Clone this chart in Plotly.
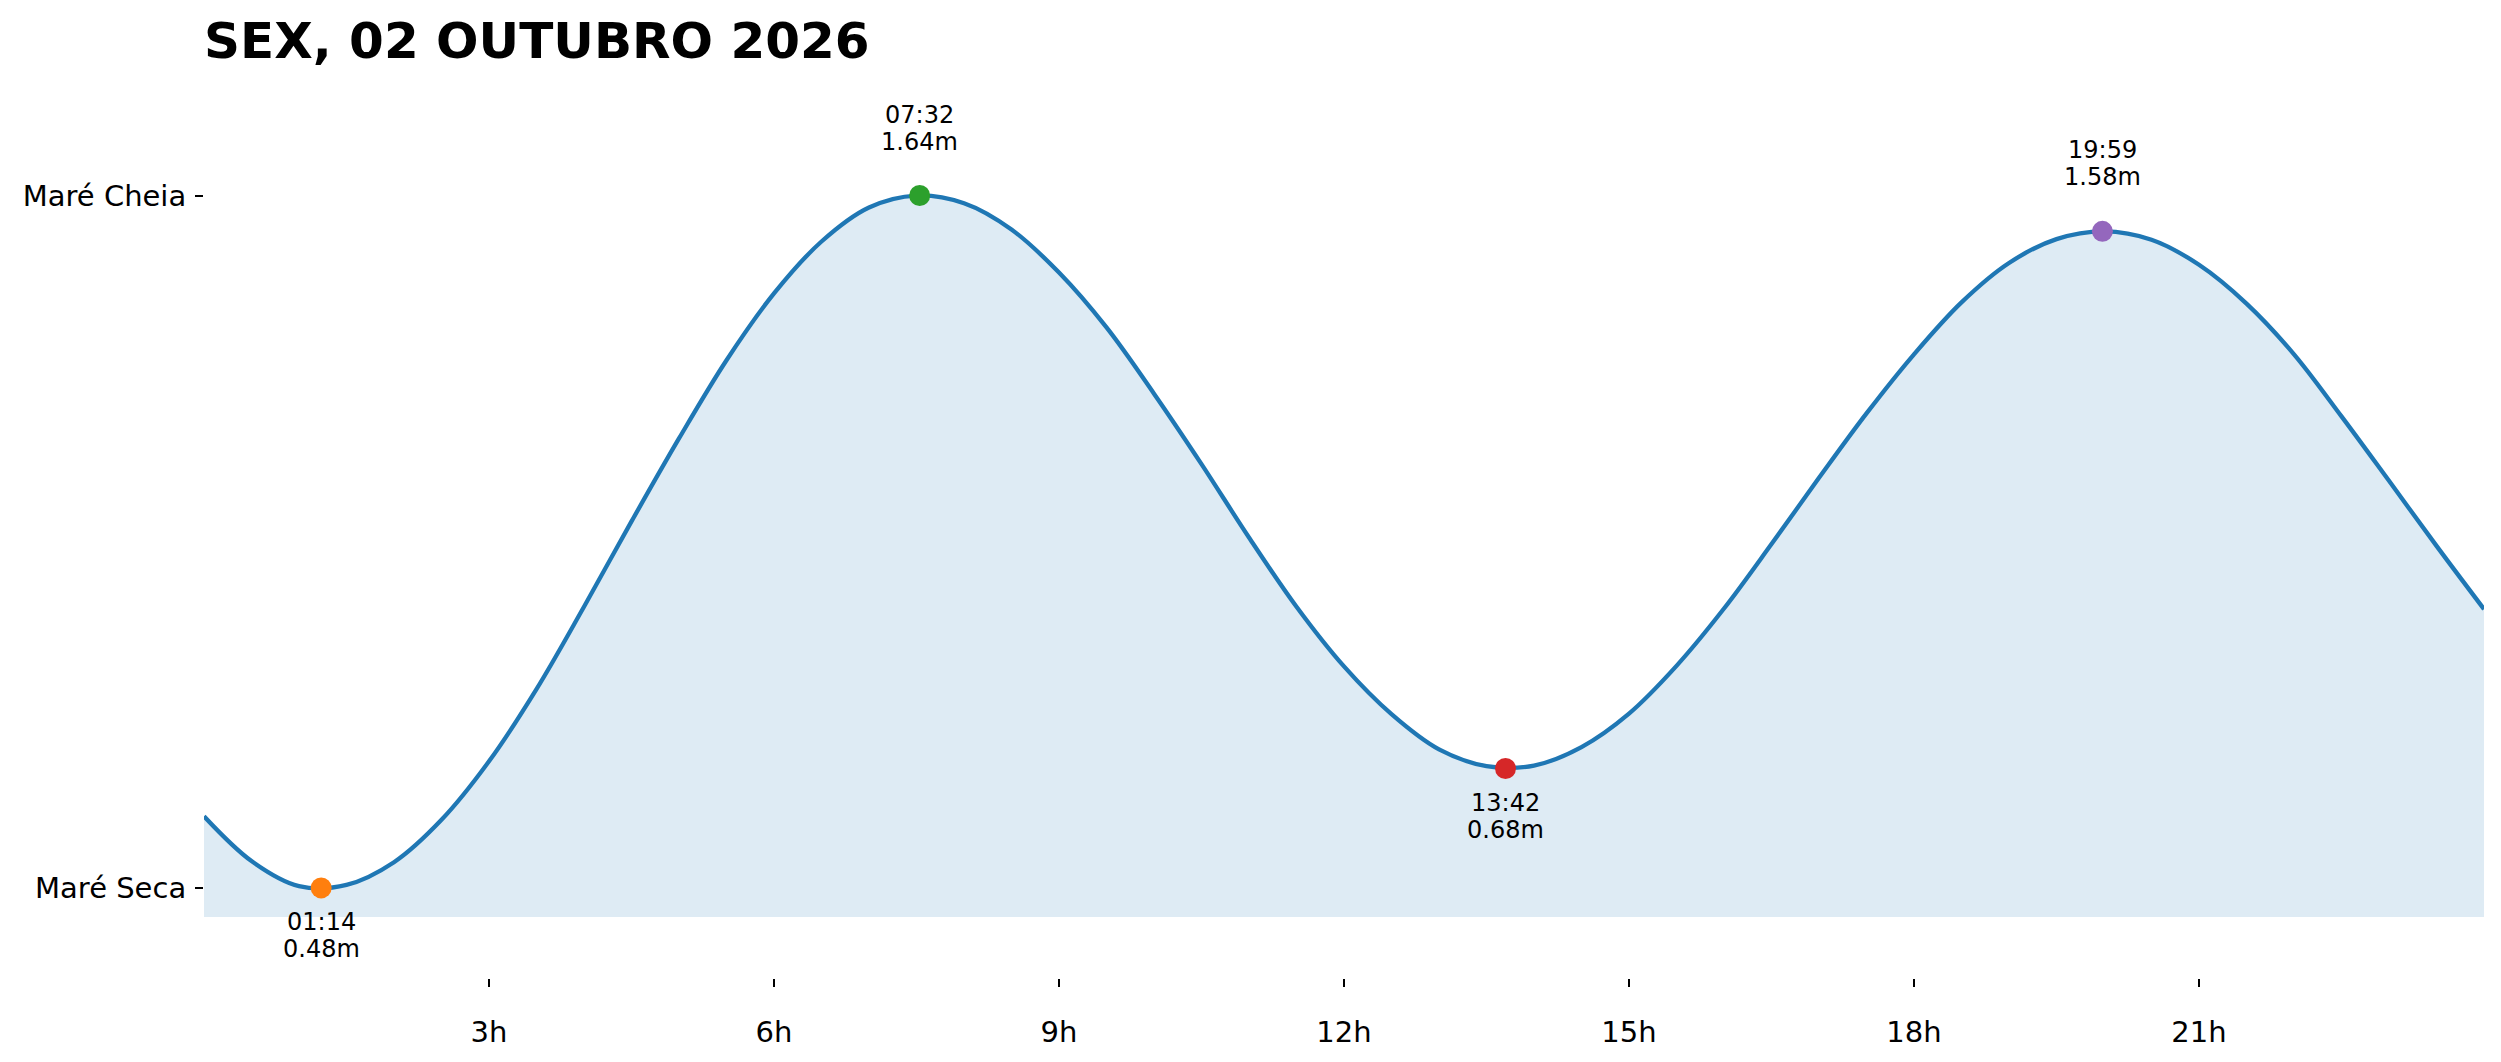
import plotly.graph_objects as go

# ---- data ----
TITLE = "SEX, 02 OUTUBRO 2026"

HOURS = [0, 0.5, 1, 1.5, 2, 2.5, 3, 3.5, 4, 4.5, 5, 5.5, 6, 6.5, 7, 7.5,
         8, 8.5, 9, 9.5, 10, 10.5, 11, 11.5, 12, 12.5, 13, 13.5, 14, 14.5,
         15, 15.5, 16, 16.5, 17, 17.5, 18, 18.5, 19, 19.5, 20, 20.5, 21,
         21.5, 22, 22.5, 23, 23.5, 24]
HEIGHTS = [0.600, 0.525, 0.483, 0.485, 0.523, 0.594, 0.692, 0.813, 0.951,
           1.094, 1.233, 1.364, 1.476, 1.563, 1.620, 1.640, 1.627, 1.583,
           1.511, 1.419, 1.308, 1.190, 1.067, 0.951, 0.851, 0.771, 0.712,
           0.684, 0.685, 0.716, 0.772, 0.852, 0.948, 1.056, 1.167, 1.275,
           1.374, 1.461, 1.527, 1.567, 1.580, 1.566, 1.524, 1.459, 1.374,
           1.270, 1.162, 1.053, 0.947]

EXT_LABELS = ["01:14", "07:32", "13:42", "19:59"]
EXT_HEIGHTS = [0.48, 1.64, 0.68, 1.58]
EXT_KIND = ["low", "high", "low", "high"]
EXT_COLORS = ["#ff7f0e", "#2ca02c", "#d62728", "#9467bd"]

X_TICK_VALS = [3, 6, 9, 12, 15, 18, 21]
X_TICK_TEXT = ["3h", "6h", "9h", "12h", "15h", "18h", "21h"]
Y_TICK_VALS = [0.48, 1.64]
Y_TICK_TEXT = ["Maré Seca", "Maré Cheia"]

X_RANGE = [0, 24]
Y_RANGE = [0.329, 1.79]
FILL_BASE = 0.431

FONT = "DejaVu Sans"


def to_hours(lbl):
    h, m = lbl.split(":")
    return int(h) + int(m) / 60.0


ext_x = [to_hours(l) for l in EXT_LABELS]

fig = go.Figure()

# baseline for the fill
fig.add_trace(go.Scatter(x=X_RANGE, y=[FILL_BASE, FILL_BASE], mode="lines",
                         line=dict(width=0, color="rgba(0,0,0,0)"),
                         hoverinfo="skip", showlegend=False))
# tide curve
fig.add_trace(go.Scatter(x=HOURS, y=HEIGHTS, mode="lines",
                         line=dict(color="#1f77b4", width=4.3, shape="spline", smoothing=1.0),
                         fill="tonexty", fillcolor="rgba(31,119,180,0.15)",
                         showlegend=False))
# extremes
for x, y, c in zip(ext_x, EXT_HEIGHTS, EXT_COLORS):
    fig.add_trace(go.Scatter(x=[x], y=[y], mode="markers",
                             marker=dict(color=c, size=21, line=dict(width=0)),
                             showlegend=False))

annotations = []
for x, y, lbl, kind in zip(ext_x, EXT_HEIGHTS, EXT_LABELS, EXT_KIND):
    if kind == "high":
        shifts = (81, 54)
    else:
        shifts = (-34, -61)
    annotations.append(dict(x=x, y=y, xref="x", yref="y", text=lbl, showarrow=False,
                            xanchor="center", yanchor="middle", yshift=shifts[0],
                            font=dict(family=FONT, size=24, color="black")))
    annotations.append(dict(x=x, y=y, xref="x", yref="y", text=f"{y:.2f}m", showarrow=False,
                            xanchor="center", yanchor="middle", yshift=shifts[1],
                            font=dict(family=FONT, size=24, color="black")))

fig.update_layout(
    width=2501, height=1062,
    margin=dict(l=204, r=17, t=106, b=84, pad=0),
    paper_bgcolor="white", plot_bgcolor="white",
    font=dict(family=FONT, size=29, color="black"),
    title=dict(text="<b>" + TITLE + "</b>", x=0, xref="paper", xanchor="left",
               y=1 - 40 / 1062, yref="container", yanchor="middle",
               font=dict(family=FONT, size=50, color="black")),
    annotations=annotations,
    showlegend=False,
)
fig.update_xaxes(range=X_RANGE, tickvals=X_TICK_VALS, ticktext=X_TICK_TEXT,
                 showgrid=False, zeroline=False, showline=False,
                 ticks="outside", ticklen=8, tickwidth=2, tickcolor="black",
                 ticklabelstandoff=20, tickfont=dict(family=FONT, size=29, color="black"))
fig.update_yaxes(range=Y_RANGE, tickvals=Y_TICK_VALS, ticktext=Y_TICK_TEXT,
                 showgrid=False, zeroline=False, showline=False,
                 ticks="outside", ticklen=8, tickwidth=2, tickcolor="black",
                 ticklabelstandoff=3, tickfont=dict(family=FONT, size=29, color="black"))

fig.write_html("out.html", config={"displayModeBar": False},
               post_script="document.body.style.margin='0px';")
